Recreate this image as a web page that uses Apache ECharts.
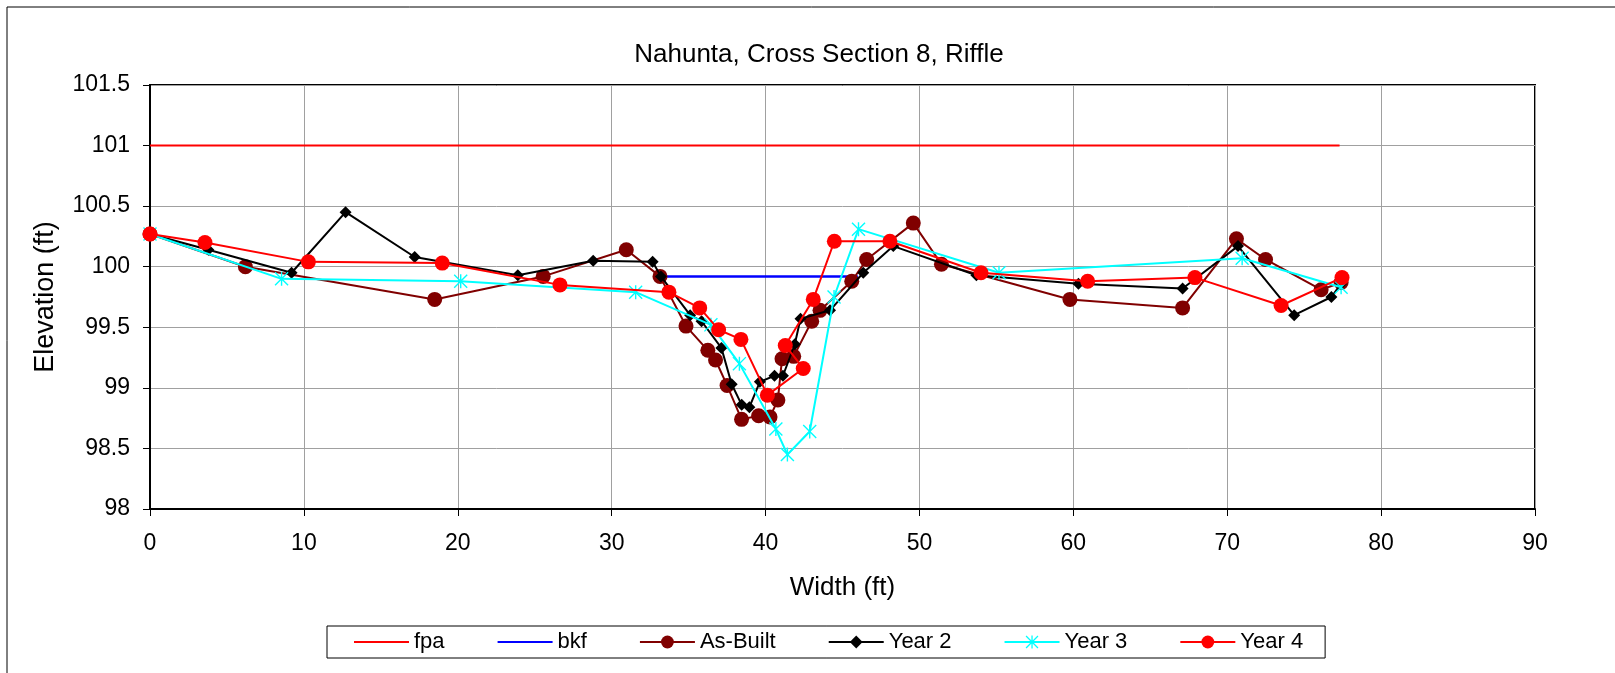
<!DOCTYPE html>
<html>
<head>
<meta charset="utf-8">
<script src="https://cdn.jsdelivr.net/npm/echarts@6/dist/echarts.min.js"></script>
<style>
html,body{margin:0;padding:0;background:#fff;}
#chart{width:1615px;height:673px;}
</style>
</head>
<body>
<div id="chart"></div>
<script>
// ---- data (width ft, elevation ft) ----
const fpa = [[0, 101], [77.3, 101]];
const bkf = [[33.2, 99.92], [46.0, 99.92]];
const asBuilt = [[0, 100.27], [6.2, 100.0], [18.5, 99.73], [25.55, 99.92], [30.95, 100.14], [33.14, 99.92], [34.83, 99.51], [36.25, 99.31], [36.75, 99.23], [37.5, 99.02], [38.44, 98.74], [39.55, 98.77], [40.29, 98.76], [40.8, 98.9], [41.07, 99.24], [41.83, 99.26], [43.0, 99.55], [43.54, 99.64], [45.6, 99.88], [46.57, 100.06], [49.6, 100.36], [51.43, 100.02], [59.78, 99.73], [67.1, 99.66], [70.6, 100.23], [72.49, 100.06], [76.1, 99.81], [77.4, 99.87]];
const year2 = [[0, 100.27], [3.79, 100.14], [9.2, 99.95], [12.71, 100.45], [17.2, 100.08], [23.9, 99.93], [28.8, 100.05], [32.66, 100.04], [33.2, 99.92], [35.1, 99.6], [35.84, 99.55], [37.13, 99.33], [37.8, 99.03], [38.45, 98.86], [38.95, 98.84], [39.63, 99.05], [40.58, 99.1], [41.13, 99.1], [41.9, 99.36], [42.27, 99.57], [44.19, 99.64], [46.35, 99.95], [48.3, 100.17], [53.7, 99.93], [60.33, 99.86], [67.1, 99.82], [70.7, 100.17], [74.35, 99.6], [76.77, 99.75], [77.4, 99.86]];
const year3 = [[0, 100.27], [8.55, 99.9], [20.19, 99.88], [31.56, 99.79], [36.45, 99.52], [38.3, 99.2], [40.67, 98.66], [41.42, 98.45], [42.87, 98.64], [44.45, 99.75], [46.04, 100.31], [55.17, 99.95], [70.97, 100.07], [77.4, 99.83]];
const year4 = [[0, 100.27], [3.57, 100.2], [10.29, 100.04], [18.99, 100.03], [26.64, 99.85], [33.72, 99.79], [35.72, 99.66], [36.95, 99.48], [38.4, 99.4], [40.12, 98.94], [42.45, 99.16], [41.28, 99.35], [43.1, 99.73], [44.47, 100.21], [48.08, 100.21], [54.0, 99.95], [60.93, 99.88], [67.9, 99.91], [73.5, 99.68], [77.46, 99.91]];
const seriesNames = ['fpa', 'bkf', 'As-Built', 'Year 2', 'Year 3', 'Year 4'];
const titleText = 'Nahunta, Cross Section 8, Riffle';
const xName = 'Width (ft)';
const yName = 'Elevation (ft)';

const FONT = '"Liberation Sans", Arial, sans-serif';
const asterisk = 'path://M9 0L11 0L11 20L9 20Z M0 1.4L1.4 0L20 18.6L18.6 20Z M18.6 0L20 1.4L1.4 20L0 18.6Z';

const chart = echarts.init(document.getElementById('chart'), null, {renderer: 'canvas'});
chart.setOption({
  animation: false,
  backgroundColor: '#fff',
  textStyle: {fontFamily: FONT},
  graphic: [{
    type: 'rect', shape: {x: 7, y: 7, width: 3000, height: 3000},
    style: {fill: 'none', stroke: '#000', lineWidth: 1}, silent: true, z: -1
  }],
  title: {
    text: titleText, left: 814, top: 37, textAlign: 'center',
    textStyle: {fontFamily: FONT, fontSize: 26, fontWeight: 'normal', color: '#000'}
  },
  legend: {
    left: 327, top: 626,
    padding: [4, 22, 4, 26],
    itemGap: 52, itemWidth: 55, itemHeight: 16,
    borderColor: '#000', borderWidth: 1,
    textStyle: {fontFamily: FONT, fontSize: 22, color: '#000', lineHeight: 24},
    data: seriesNames.map(function (n, i) {
      return i < 2 ? {name: n, itemStyle: {opacity: 0}} : {name: n};
    })
  },
  grid: {
    left: 150, right: 80, top: 85, bottom: 164,
    show: true, borderColor: '#000', borderWidth: 2, containLabel: false
  },
  xAxis: {
    type: 'value', min: 0, max: 90, interval: 10,
    name: xName, nameLocation: 'middle', nameGap: 66,
    nameTextStyle: {fontFamily: FONT, fontSize: 26, color: '#000'},
    axisLine: {lineStyle: {color: '#000', width: 2}},
    axisTick: {show: true, length: 7, lineStyle: {color: '#000', width: 1}},
    axisLabel: {fontFamily: FONT, fontSize: 23, color: '#000', margin: 23},
    splitLine: {show: true, lineStyle: {color: '#a0a0a0', width: 1}}
  },
  yAxis: {
    type: 'value', min: 98, max: 101.5, interval: 0.5,
    name: yName, nameLocation: 'middle', nameGap: 91, nameRotate: 90,
    nameTextStyle: {fontFamily: FONT, fontSize: 27, color: '#000'},
    axisLine: {show: true, lineStyle: {color: '#000', width: 2}},
    axisTick: {show: true, length: 7, lineStyle: {color: '#000', width: 1}},
    axisLabel: {fontFamily: FONT, fontSize: 23, color: '#000', margin: 20},
    splitLine: {show: true, lineStyle: {color: '#a0a0a0', width: 1}}
  },
  series: [
    {name: 'fpa', type: 'line', data: fpa, symbol: 'none', color: '#ff0000',
     lineStyle: {color: '#ff0000', width: 2}, z: 2},
    {name: 'bkf', type: 'line', data: bkf, symbol: 'none', color: '#0000ff',
     lineStyle: {color: '#0000ff', width: 2.5}, z: 2},
    {name: 'As-Built', type: 'line', data: asBuilt, symbol: 'circle', symbolSize: 15,
     color: '#800000', itemStyle: {color: '#800000'}, lineStyle: {color: '#800000', width: 2}, z: 3},
    {name: 'Year 2', type: 'line', data: year2, symbol: 'diamond', symbolSize: 12,
     color: '#000000', itemStyle: {color: '#000'}, lineStyle: {color: '#000', width: 2}, z: 4},
    {name: 'Year 3', type: 'line', data: year3, symbol: asterisk, symbolSize: 14,
     color: '#00ffff', itemStyle: {color: '#00ffff'}, lineStyle: {color: '#00ffff', width: 2}, z: 5},
    {name: 'Year 4', type: 'line', data: year4, symbol: 'circle', symbolSize: 15,
     color: '#ff0000', itemStyle: {color: '#ff0000'}, lineStyle: {color: '#ff0000', width: 2}, z: 6}
  ]
});
</script>
</body>
</html>
